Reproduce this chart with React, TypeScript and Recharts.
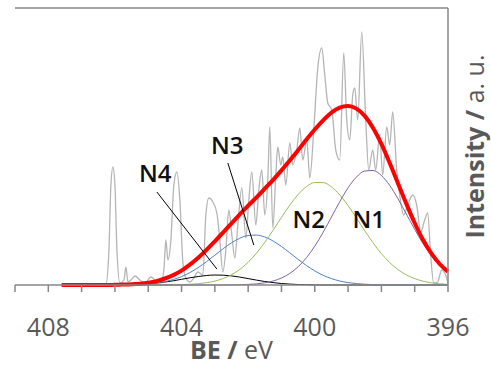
import React from 'react';
import { ComposedChart, Line, XAxis, YAxis, ReferenceLine, ReferenceDot } from 'recharts';

// Raw spectrum (binding energy, eV) and intensity (a.u.)
const rawBE = [
  407.6, 406.45, 406.27, 406.18, 406.12, 406.06, 406.0, 405.94, 405.85, 405.73, 405.67, 405.61, 405.49, 405.4,
  405.25, 405.1, 404.92, 404.77, 404.62, 404.53, 404.47, 404.41, 404.32, 404.23, 404.14, 404.05, 403.96, 403.87,
  403.75, 403.63, 403.51, 403.36, 403.27, 403.18, 403.06, 402.94, 402.85, 402.76, 402.67, 402.58, 402.49, 402.4,
  402.31, 402.19, 402.07, 401.98, 401.89, 401.77, 401.68, 401.59, 401.5, 401.41, 401.35, 401.26, 401.17, 401.11,
  401.02, 400.96, 400.87, 400.75, 400.66, 400.54, 400.45, 400.36, 400.24, 400.15, 400.03, 399.91, 399.79, 399.7,
  399.61, 399.49, 399.37, 399.25, 399.13, 399.04, 398.95, 398.86, 398.8, 398.71, 398.59, 398.47, 398.38, 398.26,
  398.17, 398.05, 397.96, 397.84, 397.75, 397.66, 397.54, 397.45, 397.33, 397.21, 397.06, 396.94, 396.82, 396.7,
  396.61, 396.52, 396.43, 396.31, 396.19, 396.07, 396.0,
];
const rawIntensity = [
  0, 0, 1, 35, 100, 118, 100, 35, 2, 5, 18, 3, 6, 9,
  5, 2, 8, 4, 2, 15, 45, 25, 45, 100, 113, 85, 23, 7,
  3, 7, 13, 10, 70, 87, 83, 72, 45, 13, 35, 75, 50, 27,
  60, 97, 47, 85, 113, 60, 95, 115, 70, 105, 158, 57, 110, 138,
  120, 128, 100, 142, 120, 135, 157, 125, 145, 107, 155, 217, 237, 210,
  182, 175, 135, 125, 232, 165, 145, 190, 197, 165, 253, 165, 115, 135,
  115, 150, 110, 158, 140, 173, 115, 90, 70, 80, 90, 80, 53, 65,
  72, 30, 2, 3, 15, 10, 2,
];

// Fitted components
const fitBE = [
  407.6, 407.5, 407.25, 407.0, 406.75, 406.5, 406.25, 406.0, 405.75, 405.5, 405.25, 405.0, 404.75, 404.5, 404.25, 404.0,
  403.75, 403.5, 403.25, 403.0, 402.75, 402.5, 402.25, 402.0, 401.75, 401.5, 401.25, 401.0, 400.75, 400.5, 400.25, 400.0,
  399.75, 399.5, 399.25, 399.0, 398.75, 398.5, 398.25, 398.0, 397.75, 397.5, 397.25, 397.0, 396.75, 396.5, 396.25, 396.0,
];
const fitN1 = [
  0, 0, 0, 0, 0, 0, 0, 0, 0, 0, 0, 0, 0, 0, 0, 0,
  0, 0, 0, 0, 0, 0.1, 0.3, 0.6, 1.1, 2.2, 4.0, 7.0, 11.6, 18.2, 27.3, 38.8,
  52.6, 67.9, 83.3, 97.2, 107.9, 114.0, 114.5, 109.5, 99.6, 86.2, 71.0, 55.6, 41.4, 29.4, 19.8, 12.7,
];
const fitN2 = [
  0, 0, 0, 0, 0, 0, 0, 0, 0, 0, 0, 0, 0, 0.1, 0.2, 0.3,
  0.7, 1.3, 2.3, 3.9, 6.5, 10.3, 15.6, 22.8, 31.8, 42.7, 54.8, 67.6, 79.9, 90.5, 98.4, 102.5,
  102.4, 98.1, 90.1, 79.4, 67.1, 54.3, 42.2, 31.4, 22.4, 15.4, 10.1, 6.4, 3.8, 2.2, 1.2, 0.7,
];
const fitN3 = [
  0, 0, 0, 0, 0, 0, 0, 0.1, 0.2, 0.3, 0.6, 1.1, 2.0, 3.4, 5.5, 8.4,
  12.4, 17.4, 23.3, 29.8, 36.3, 42.2, 46.8, 49.5, 49.9, 48.0, 44.0, 38.5, 32.2, 25.6, 19.5, 14.1,
  9.7, 6.4, 4.0, 2.4, 1.4, 0.8, 0.4, 0.2, 0.1, 0, 0, 0, 0, 0, 0, 0,
];
const fitN4 = [
  0, 0, 0, 0, 0, 0, 0, 0.1, 0.2, 0.4, 0.7, 1.2, 1.9, 3.0, 4.2, 5.7,
  7.2, 8.5, 9.5, 10.0, 9.8, 9.1, 7.9, 6.4, 4.9, 3.5, 2.4, 1.5, 0.9, 0.5, 0.3, 0.1,
  0, 0, 0, 0, 0, 0, 0, 0, 0, 0, 0, 0, 0, 0, 0, 0,
];
const fitEnvelope = [
  0, 0, 0, 0, 0, 0, 0, 0.2, 0.4, 0.7, 1.3, 2.3, 3.9, 6.5, 9.9, 14.4,
  20.3, 27.2, 35.1, 43.7, 52.6, 61.7, 70.6, 79.3, 87.7, 96.4, 105.2, 114.6, 124.6, 134.8, 145.5, 155.5,
  164.7, 172.4, 177.4, 179.0, 176.4, 169.1, 157.1, 141.1, 122.0, 101.6, 81.1, 62.0, 45.2, 31.6, 21.0, 13.4,
];

const xTicks = [409, 408, 407, 406, 405, 404, 403, 402, 401, 400, 399, 398, 397, 396];
const xTickLabels = [408, 404, 400, 396];

// Peak annotations (in data units)
const peakNames = ['N1', 'N2', 'N3', 'N4'];
const peakLabelBE = [398.38, 400.18, 402.63, 404.79];
const peakLabelY = [57, 57, 131, 103];
const leaderNames = ['N3', 'N4'];
const leaderStartBE = [402.61, 404.74];
const leaderStartY = [122, 93];
const leaderEndBE = [401.83, 402.94];
const leaderEndY = [40, 16];

const rawData = rawBE.map((be, i) => ({ be, v: rawIntensity[i] }));
const fitData = fitBE.map((be, i) => ({
  be,
  n1: fitN1[i],
  n2: fitN2[i],
  n3: fitN3[i],
  n4: fitN4[i],
  env: fitEnvelope[i],
}));

const FONT = "'Open Sans', 'Noto Sans', sans-serif";
const AXIS = '#878787';
const TEXT = '#595959';

const XTick = (p: any) => {
  const v = p.payload.value;
  const show = xTickLabels.includes(v);
  return (
    <text x={p.x} y={p.y + 42} textAnchor="middle" fontFamily={FONT} fontSize={25} fill={TEXT}>
      {show ? String(v) : ''}
    </text>
  );
};

const XTitle = (p: any) => {
  const vb = p.viewBox;
  return (
    <text x={vb.x + vb.width / 2} y={vb.y + 74} textAnchor="middle" fontFamily={FONT} fontSize={25} fill={TEXT}>
      <tspan fontWeight={700}>BE / </tspan>
      <tspan>eV</tspan>
    </text>
  );
};

const YTitle = (p: any) => {
  const vb = p.viewBox;
  const cx = vb.x + 36;
  const cy = vb.y + vb.height / 2;
  return (
    <text
      x={cx}
      y={cy}
      transform={`rotate(-90 ${cx} ${cy})`}
      textAnchor="middle"
      fontFamily={FONT}
      fontSize={25}
      fill={TEXT}
    >
      <tspan fontWeight={700}>Intensity / </tspan>
      <tspan>a. u.</tspan>
    </text>
  );
};

export default function App() {
  return (
    <div style={{ position: 'absolute', left: 0, top: 0, background: '#fff' }}>
      <ComposedChart width={491} height={370} data={fitData} margin={{ top: 8, right: 0, left: 15, bottom: 35 }}>
        <XAxis
          dataKey="be"
          type="number"
          domain={[396, 409]}
          reversed
          ticks={xTicks}
          interval={0}
          height={50}
          axisLine={{ stroke: AXIS, strokeWidth: 1.5 }}
          tickLine={{ stroke: AXIS, strokeWidth: 1.5 }}
          tickSize={7}
          tickMargin={2}
          tick={<XTick />}
          label={XTitle}
        />
        <YAxis
          yAxisId="l"
          type="number"
          domain={[0, 277]}
          width={0}
          tick={false}
          tickLine={false}
          axisLine={{ stroke: AXIS, strokeWidth: 1.5 }}
        />
        <YAxis
          yAxisId="r"
          orientation="right"
          type="number"
          domain={[0, 277]}
          width={43}
          tick={false}
          tickLine={false}
          axisLine={{ stroke: AXIS, strokeWidth: 1.5 }}
          label={YTitle}
        />
        <ReferenceLine yAxisId="l" y={277} stroke={AXIS} strokeWidth={1.5} />
        <Line
          yAxisId="l"
          data={rawData}
          dataKey="v"
          type="monotone"
          stroke="#b5b5b5"
          strokeWidth={1.3}
          dot={false}
          isAnimationActive={false}
        />
        <Line yAxisId="l" dataKey="n4" type="monotone" stroke="#000000" strokeWidth={1} dot={false} isAnimationActive={false} />
        <Line yAxisId="l" dataKey="n3" type="monotone" stroke="#4f81bd" strokeWidth={1} dot={false} isAnimationActive={false} />
        <Line yAxisId="l" dataKey="n2" type="monotone" stroke="#9bbb59" strokeWidth={1} dot={false} isAnimationActive={false} />
        <Line yAxisId="l" dataKey="n1" type="monotone" stroke="#8064a2" strokeWidth={1} dot={false} isAnimationActive={false} />
        <Line yAxisId="l" dataKey="env" type="monotone" stroke="#ff0000" strokeWidth={4} dot={false} isAnimationActive={false} />
        {leaderNames.map((n, i) => (
          <ReferenceLine
            key={`ld-${n}`}
            yAxisId="l"
            segment={[
              { x: leaderStartBE[i], y: leaderStartY[i] },
              { x: leaderEndBE[i], y: leaderEndY[i] },
            ]}
            stroke="#000"
            strokeWidth={1}
          />
        ))}
        {peakNames.map((n, i) => (
          <ReferenceDot
            key={`pk-${n}`}
            yAxisId="l"
            x={peakLabelBE[i]}
            y={peakLabelY[i]}
            r={0}
            shape={(p: any) => (
              <text x={p.cx} y={p.cy} textAnchor="middle" fontFamily={FONT} fontSize={24} fontWeight={600} fill="#111">
                {n}
              </text>
            )}
          />
        ))}
      </ComposedChart>
    </div>
  );
}
